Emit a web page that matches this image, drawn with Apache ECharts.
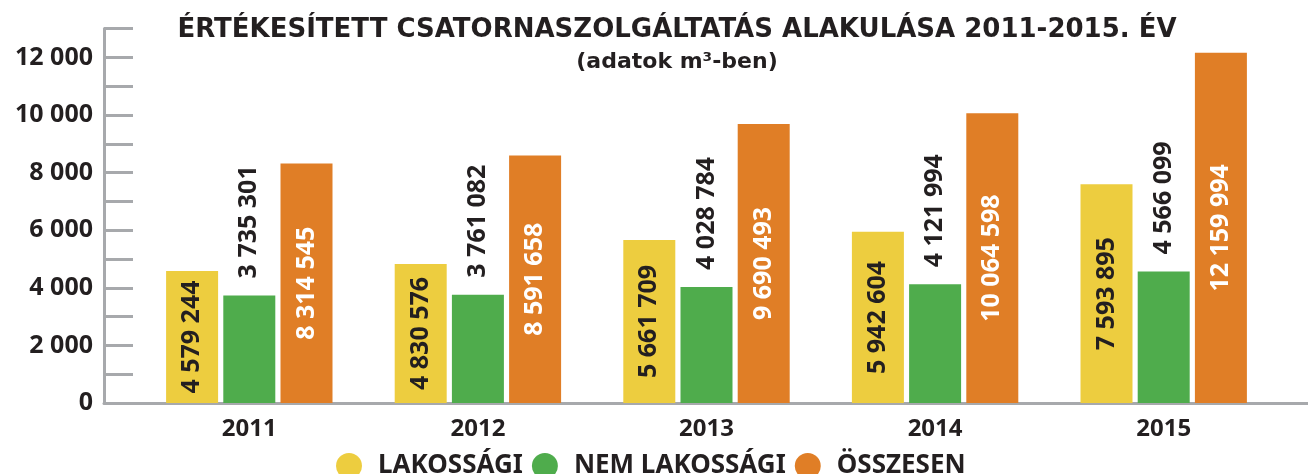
<!DOCTYPE html>
<html>
<head>
<meta charset="utf-8">
<script src="https://cdn.jsdelivr.net/npm/echarts@6/dist/echarts.min.js"></script>
<style>
  html, body { margin: 0; padding: 0; background: #fff; }
  #chart { width: 1308px; height: 474px; }
</style>
</head>
<body>
<div id="chart"></div>
<script>
const years = ["2011", "2012", "2013", "2014", "2015"];
const lakossagi = [4579244, 4830576, 5661709, 5942604, 7593895];
const nemLakossagi = [3735301, 3761082, 4028784, 4121994, 4566099];
const osszesen = [8314545, 8591658, 9690493, 10064598, 12159994];
const seriesNames = ["LAKOSSÁGI", "NEM LAKOSSÁGI", "ÖSSZESEN"];

const FONT = "'Noto Sans', sans-serif";
const TITLE_FONT = "'DejaVu Sans', sans-serif";
const DARK = "#231f20";
const GRAY = "#a7a9ac";

function fmt(n) {
  return String(n).replace(/\B(?=(\d{3})+(?!\d))/g, " ");
}

function toThousands(arr) {
  return arr.map((v) => ({ value: v / 1000, raw: v }));
}

const labelBase = {
  show: true,
  rotate: 90,
  fontFamily: FONT,
  fontWeight: "bold",
  fontSize: 25,
  formatter: (p) => fmt(p.data.raw),
};

const chart = echarts.init(document.getElementById("chart"));

chart.setOption({
  animation: false,
  title: {
    text: "ÉRTÉKESÍTETT CSATORNASZOLGÁLTATÁS ALAKULÁSA 2011-2015. ÉV",
    subtext: "(adatok m³-ben)",
    left: 672,
    textAlign: "center",
    top: 12,
    itemGap: 8,
    textStyle: { fontFamily: TITLE_FONT, fontWeight: "bold", fontSize: 26, color: DARK },
    subtextStyle: { fontFamily: TITLE_FONT, fontWeight: "bold", fontSize: 22, color: DARK },
  },
  legend: {
    data: seriesNames,
    left: 331,
    top: 448,
    icon: "circle",
    itemWidth: 26,
    itemHeight: 26,
    itemGap: 9,
    textStyle: { fontFamily: FONT, fontWeight: "bold", fontSize: 26, color: DARK, padding: [0, 0, 0, 11] },
  },
  grid: [
    { left: 135, right: 30, top: 28.6, bottom: 71 },
    { left: 104, right: 0, top: 28.6, bottom: 71 },
  ],
  xAxis: [
    {
      type: "category",
      gridIndex: 0,
      data: years,
      axisLine: { show: false },
      axisTick: { show: false },
      axisLabel: { fontFamily: FONT, fontWeight: "bold", fontSize: 24, color: DARK, margin: 14 },
    },
    {
      type: "value",
      gridIndex: 1,
      axisLine: { show: true, lineStyle: { color: GRAY, width: 3 } },
      axisTick: { show: false },
      axisLabel: { show: false },
      splitLine: { show: false },
    },
  ],
  yAxis: [
    {
      type: "value",
      gridIndex: 0,
      min: 0,
      max: 13000,
      interval: 1000,
      offset: 31,
      axisLine: { show: true, lineStyle: { color: GRAY, width: 3 } },
      axisTick: { show: true, inside: true, length: 29, lineStyle: { color: GRAY, width: 3 } },
      splitLine: { show: false },
      axisLabel: {
        fontFamily: FONT,
        fontWeight: "bold",
        fontSize: 25,
        color: DARK,
        margin: 11,
        formatter: (v) => (v % 2000 === 0 && v <= 12000 ? fmt(v) : ""),
      },
    },
    { type: "value", gridIndex: 1, show: false },
  ],
  series: [
    {
      name: seriesNames[0],
      type: "bar",
      barWidth: 52,
      barGap: "10%",
      itemStyle: { color: "#edcd3f" },
      label: { ...labelBase, position: "inside", color: DARK },
      data: toThousands(lakossagi),
    },
    {
      name: seriesNames[1],
      type: "bar",
      barWidth: 52,
      barGap: "10%",
      itemStyle: { color: "#4fac4c" },
      label: { ...labelBase, position: "top", align: "left", verticalAlign: "middle", distance: 17, color: DARK },
      data: toThousands(nemLakossagi),
    },
    {
      name: seriesNames[2],
      type: "bar",
      barWidth: 52,
      barGap: "10%",
      itemStyle: { color: "#e07e26" },
      label: { ...labelBase, position: "inside", color: "#ffffff" },
      data: toThousands(osszesen),
    },
  ],
});
</script>
</body>
</html>
